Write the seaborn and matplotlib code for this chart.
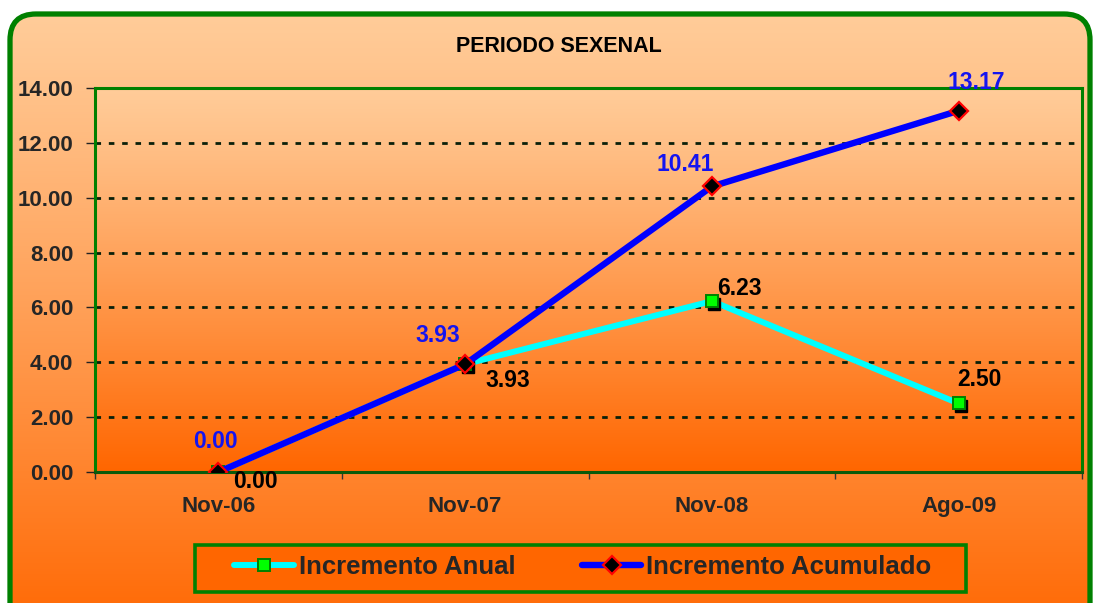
import numpy as np
import pandas as pd
import matplotlib
matplotlib.use("Agg")
import matplotlib.pyplot as plt
import seaborn as sns
from matplotlib.patches import FancyBboxPatch, Rectangle
from matplotlib.lines import Line2D
from matplotlib.transforms import ScaledTranslation
from matplotlib.font_manager import FontProperties

# ---- data ----
categories = ["Nov-06", "Nov-07", "Nov-08", "Ago-09"]
anual = [0.00, 3.93, 6.23, 2.50]
acumulado = [0.00, 3.93, 10.41, 13.17]
yticks = [0, 2, 4, 6, 8, 10, 12, 14]
title = "PERIODO SEXENAL"
series_names = ["Incremento Anual", "Incremento Acumulado"]

sns.set_theme(style="white")
plt.rcParams["font.family"] = ["Liberation Sans", "DejaVu Sans"]
plt.rcParams["font.weight"] = "bold"

W, H = 1093, 603
fig = plt.figure(figsize=(W / 100, H / 100), dpi=100)
fig.patch.set_facecolor("white")

# ---- background gradients ----
bg = fig.add_axes([0, 0, 1, 1], zorder=-10)
bg.set_xlim(0, W)
bg.set_ylim(0, H)
bg.axis("off")

top_c = np.array([255, 204, 153]) / 255
bot_c = np.array([255, 102, 0]) / 255


def grad(n=256, power=1.0):
    t = np.linspace(0, 1, n) ** power
    g = top_c[None, :] * (1 - t[:, None]) + bot_c[None, :] * t[:, None]
    return g[:, None, :]


frame = FancyBboxPatch((10, -40), 1080, H - 14 + 40,
                       boxstyle="round,pad=0,rounding_size=26",
                       fc="none", ec="#008000", lw=3.8, zorder=5)
bg.add_patch(frame)
im = bg.imshow(grad(power=1.1), extent=(10, 1090, -40, H - 14), aspect="auto",
               origin="upper", zorder=1)
im.set_clip_path(frame)
bg.imshow(grad(power=1.1), extent=(95, 1082, H - 472, H - 88), aspect="auto",
          origin="upper", zorder=2)
bg.add_patch(Rectangle((195, H - 592), 771, 47, fc="#FF6600", ec="#008000",
                       lw=2.6, zorder=3))
bg.set_xlim(0, W)
bg.set_ylim(0, H)

# ---- main axes ----
ax = fig.add_axes([95 / W, 1 - 472 / H, (1082 - 95) / W, (472 - 88) / H])
ax.set_facecolor("none")
xpos = np.arange(len(categories))

sns.lineplot(x=xpos, y=anual, ax=ax, color="#00FFFF", lw=4.3, legend=False,
             zorder=3, sort=False)
shadow = ax.transData + ScaledTranslation(2.5 / 100, -3 / 100, fig.dpi_scale_trans)
ax.plot(xpos, anual, ls="none", marker="s", ms=8.5, mfc="black", mec="black",
        transform=shadow, zorder=3.5)
ax.plot(xpos, anual, ls="none", marker="s", ms=8.5, mfc="#00FF00", mec="#008000",
        mew=1.4, zorder=4)
sns.lineplot(x=xpos, y=acumulado, ax=ax, color="#0000FF", lw=4.6, legend=False,
             zorder=5, sort=False, marker="D", markersize=9.5,
             markerfacecolor="black", markeredgecolor="#FF0000",
             markeredgewidth=1.6)

ax.set_xlim(-0.5, 3.5)
ax.set_ylim(0, 14)
ax.set_yticks(yticks)
ax.set_yticklabels([f"{v:.2f}" for v in yticks])
ax.set_xticks(xpos)
ax.set_xticklabels(categories)
ax.set_xticks(np.arange(-0.5, 3.6, 1.0), minor=True)
ax.tick_params(axis="x", which="major", length=0, pad=17, labelsize=16)
ax.tick_params(axis="x", which="minor", length=5, width=1, color="#333333",
               direction="out", bottom=True)
ax.tick_params(axis="y", which="major", length=6.5, width=1, color="#222222",
               direction="out", pad=9, labelsize=16, left=True)
for lab in ax.get_xticklabels() + ax.get_yticklabels():
    lab.set_fontweight("bold")
ax.set_xlabel("")
ax.set_ylabel("")

for y in yticks[1:]:
    ax.axhline(y, color="#0a200a", lw=2.0, ls=(0, (2.0, 2.8)), zorder=1)

for s in ax.spines.values():
    s.set_color("#008000")
    s.set_linewidth(2.2)
    s.set_visible(True)
ax.spines["bottom"].set_color("#0a5a0a")

# ---- data labels ----
acu_off = [(-3, 31), (-27, 29), (-27, 22), (18, 28)]
anu_off = [(37, -10), (43, -16), (28, 13), (21, 24)]
for i, v in enumerate(acumulado):
    ax.annotate(f"{v:.2f}", (xpos[i], v),
                xytext=(acu_off[i][0] * 0.72, acu_off[i][1] * 0.72),
                textcoords="offset points", ha="center", va="center",
                color="#1414F0", fontsize=16.5, fontweight="bold", zorder=7,
                annotation_clip=False)
for i, v in enumerate(anual):
    ax.annotate(f"{v:.2f}", (xpos[i], v),
                xytext=(anu_off[i][0] * 0.72, anu_off[i][1] * 0.72),
                textcoords="offset points", ha="center", va="center",
                color="black", fontsize=16.5, fontweight="bold", zorder=7,
                annotation_clip=False)

fig.text(559 / W, 1 - 46 / H, title, ha="center", va="center",
         fontsize=15.5, fontweight="bold", color="black")

# ---- legend ----
handles = [
    Line2D([], [], color="#00FFFF", lw=4.3, marker="s", ms=8.5, mfc="#00FF00",
           mec="#008000", mew=1.4),
    Line2D([], [], color="#0000FF", lw=4.6, marker="D", ms=9.5, mfc="black",
           mec="#FF0000", mew=1.6),
]
legfont = FontProperties(family="Liberation Sans", weight="bold", size=18.5)
leg = fig.legend(handles, series_names, loc="center",
                 bbox_to_anchor=(583 / W, 1 - 567 / H), ncol=2, frameon=False,
                 handlelength=2.3, handletextpad=0.2, columnspacing=2.6,
                 prop=legfont)

fig.savefig("out.png", dpi=100, facecolor=fig.get_facecolor())
